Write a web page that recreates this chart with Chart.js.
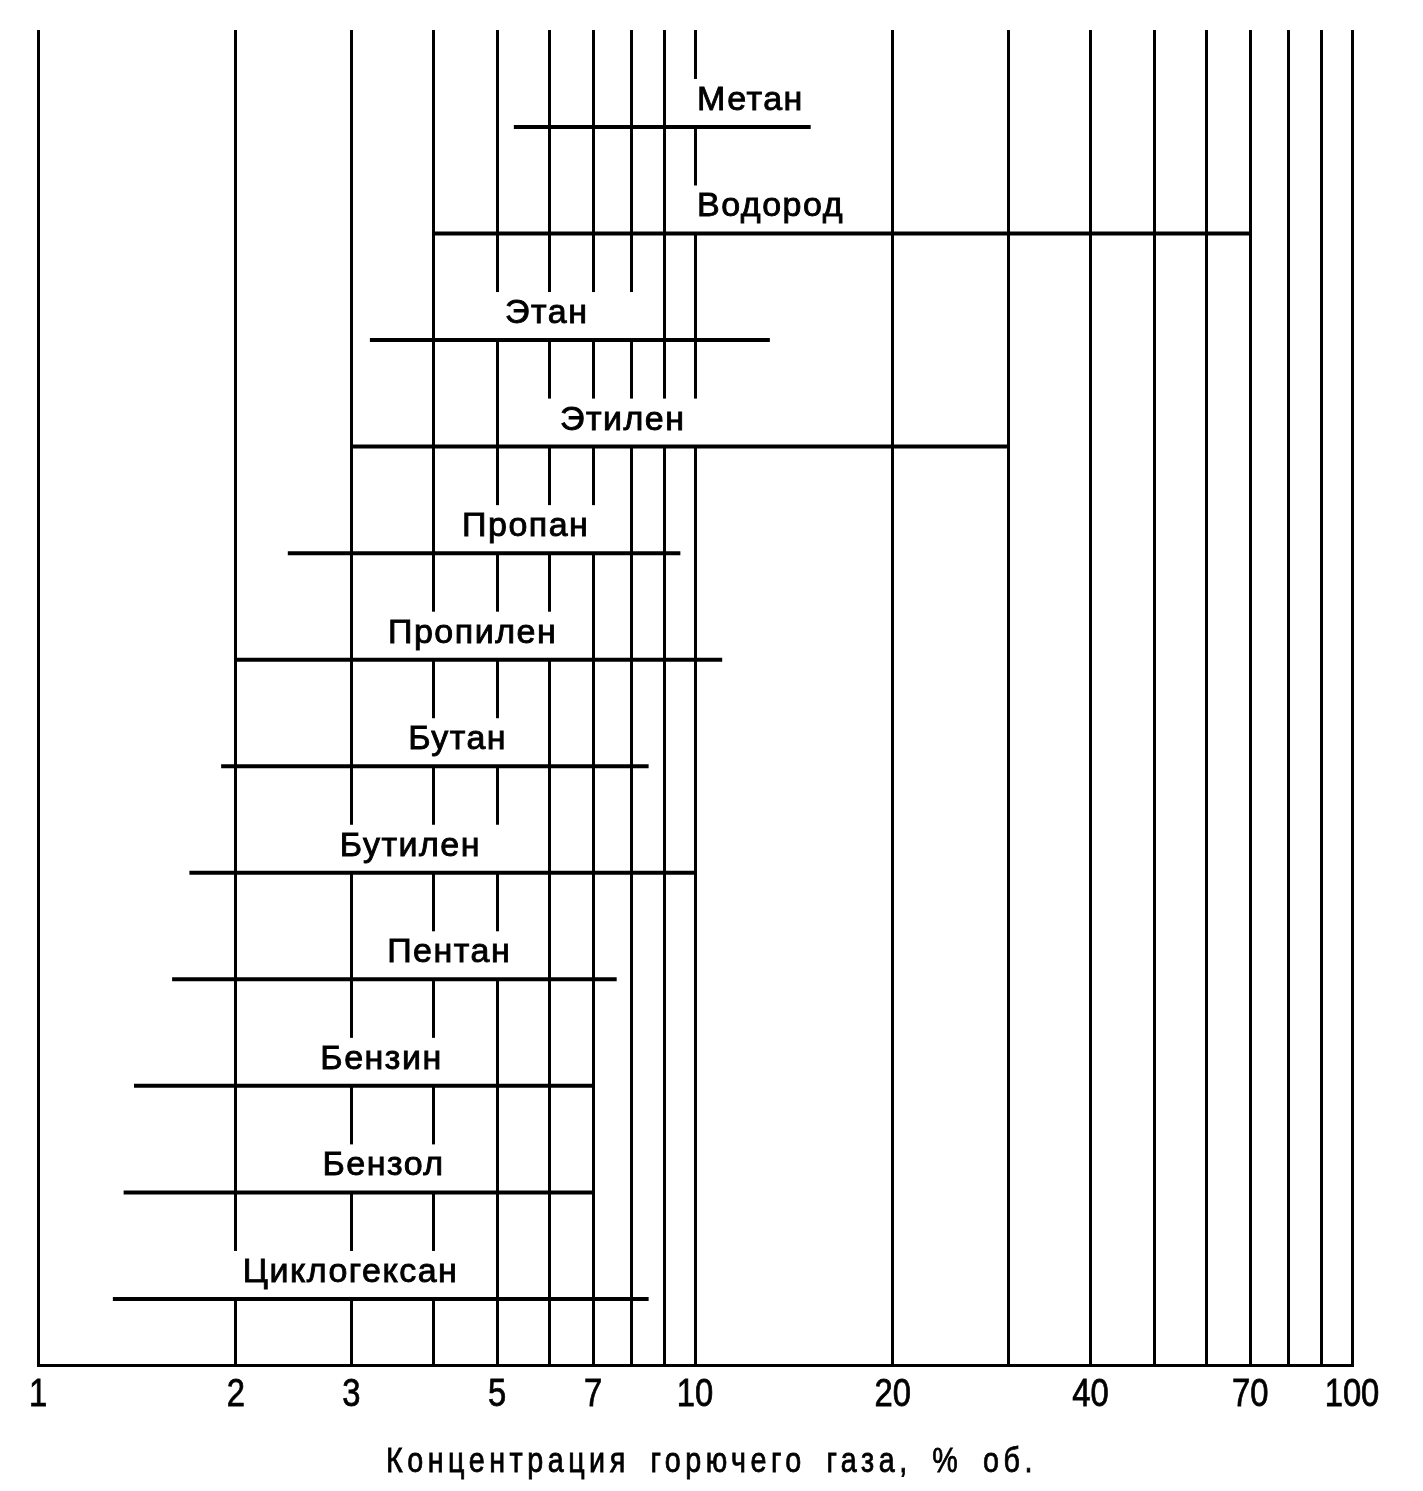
<!DOCTYPE html>
<html>
<head>
<meta charset="utf-8">
<title>Пределы воспламенения горючих газов</title>
<script src="https://cdn.jsdelivr.net/npm/chart.js@4.4.1/dist/chart.umd.min.js"></script>
<style>
  html, body { margin: 0; background: #fff; }
  #wrap { width: 1423px; height: 1491px; }
</style>
</head>
<body>
<div id="wrap"><canvas id="limitsChart"></canvas></div>
<script>
const gases = ['Метан', 'Водород', 'Этан', 'Этилен', 'Пропан', 'Пропилен', 'Бутан', 'Бутилен', 'Пентан', 'Бензин', 'Бензол', 'Циклогексан'];
const lowerLimit = [5.3, 4.0, 3.2, 3.0, 2.4, 2.0, 1.9, 1.7, 1.6, 1.4, 1.35, 1.3];
const upperLimit = [15, 70, 13, 30, 9.5, 11, 8.5, 10, 7.6, 7.0, 7.0, 8.5];
const gridValues = [1, 2, 3, 4, 5, 6, 7, 8, 9, 10, 20, 30, 40, 50, 60, 70, 80, 90, 100];
const tickLabels = [1, 2, 3, 5, 7, 10, 20, 40, 70, 100];
const axisTitle = 'Концентрация горючего газа, % об.';

// layout: where each name starts (% on the axis) and the span of grid lines broken above its bar
const nameAt = [10.07, 10.07, 5.14, 6.23, 4.42, 3.41, 3.66, 2.88, 3.40, 2.69, 2.71, 2.05];
const brokenSpan = [[10, 10], [10, 10], [5, 8], [6, 10], [5, 7], [4, 6], [4, 5], [3, 5], [4, 5], [3, 4], [3, 4], [2, 4]];

const FONT = '"Liberation Sans", Arial, sans-serif';

// narrow text, the book uses a condensed face
function narrowText(ctx, text, x, y, squeeze) {
  ctx.save();
  ctx.translate(x, y);
  ctx.scale(squeeze, 1);
  ctx.strokeText(text, 0, 0);
  ctx.fillText(text, 0, 0);
  ctx.restore();
}

const gasNames = {
  id: 'gasNames',
  beforeDatasetsDraw(chart) {
    const { ctx, scales: { x, y } } = chart;
    ctx.save();
    ctx.fillStyle = '#fff';
    brokenSpan.forEach(([from, to], i) => {
      const yBar = y.getPixelForValue(i);
      const left = x.getPixelForValue(from) - 5;
      const right = x.getPixelForValue(to) + 5;
      ctx.fillRect(left, yBar - 48, right - left, 47);
    });
    ctx.restore();
  },
  afterDatasetsDraw(chart) {
    const { ctx, scales: { x, y } } = chart;
    ctx.save();
    ctx.font = '34px ' + FONT;
    ctx.letterSpacing = '1.5px';
    ctx.fillStyle = '#000';
    ctx.strokeStyle = '#000';
    ctx.lineWidth = 0.9;
    ctx.textAlign = 'left';
    ctx.textBaseline = 'alphabetic';
    gases.forEach((name, i) => {
      const px = x.getPixelForValue(nameAt[i]);
      const py = y.getPixelForValue(i) - 17;
      ctx.strokeText(name, px, py);
      ctx.fillText(name, px, py);
    });
    ctx.restore();
  },
  afterDraw(chart) {
    const { ctx, scales: { x } } = chart;
    ctx.save();
    ctx.fillStyle = '#000';
    ctx.strokeStyle = '#000';
    ctx.lineWidth = 0.8;
    ctx.textAlign = 'center';

    /** tick labels */
    ctx.font = '39px ' + FONT;
    ctx.textBaseline = 'middle';
    x.ticks.forEach(tick => {
      if (!tickLabels.includes(tick.value)) return;
      narrowText(ctx, String(tick.value), x.getPixelForValue(tick.value), x.top + 30, 0.84);
    });

    /** axis title */
    ctx.font = '35px ' + FONT;
    ctx.letterSpacing = '5.5px';
    ctx.wordSpacing = '10px';
    ctx.textBaseline = 'alphabetic';
    narrowText(ctx, axisTitle, chart.width / 2, 1472, 0.82);
    ctx.restore();
  }
};

const ctx = document.getElementById('limitsChart').getContext('2d');
const chartData = {
  datasets: gases.map((name, i) => ({
    label: name,
    data: [{ x: lowerLimit[i], y: i }, { x: upperLimit[i], y: i }],
    showLine: true,
    borderColor: '#000',
    borderWidth: 4,
    borderCapStyle: 'butt',
    pointRadius: 0,
    clip: false
  }))
};

const options = {
  responsive: true,
  maintainAspectRatio: false,
  animation: false,
  layout: { padding: { left: 38, right: 71, top: 30, bottom: 0 } },
  plugins: {
    legend: { display: false },
    title: { display: false },
    tooltip: { enabled: false }
  },
  scales: {
    x: {
      type: 'logarithmic',
      min: 1,
      max: 100,
      afterBuildTicks: scale => { scale.ticks = gridValues.map(value => ({ value })); },
      afterFit: scale => { scale.height = 126; },
      grid: { color: '#000', lineWidth: 3, drawTicks: false },
      border: { display: true, color: '#000', width: 3 },
      ticks: {
        display: false,
        autoSkip: false,
        callback: value => tickLabels.includes(value) ? String(value) : ''
      }
    },
    y: {
      type: 'linear',
      reverse: true,
      min: -0.91,
      max: 11.62,
      display: false
    }
  }
};

new Chart(ctx, { type: 'scatter', data: chartData, options, plugins: [gasNames] });
</script>
</body>
</html>
